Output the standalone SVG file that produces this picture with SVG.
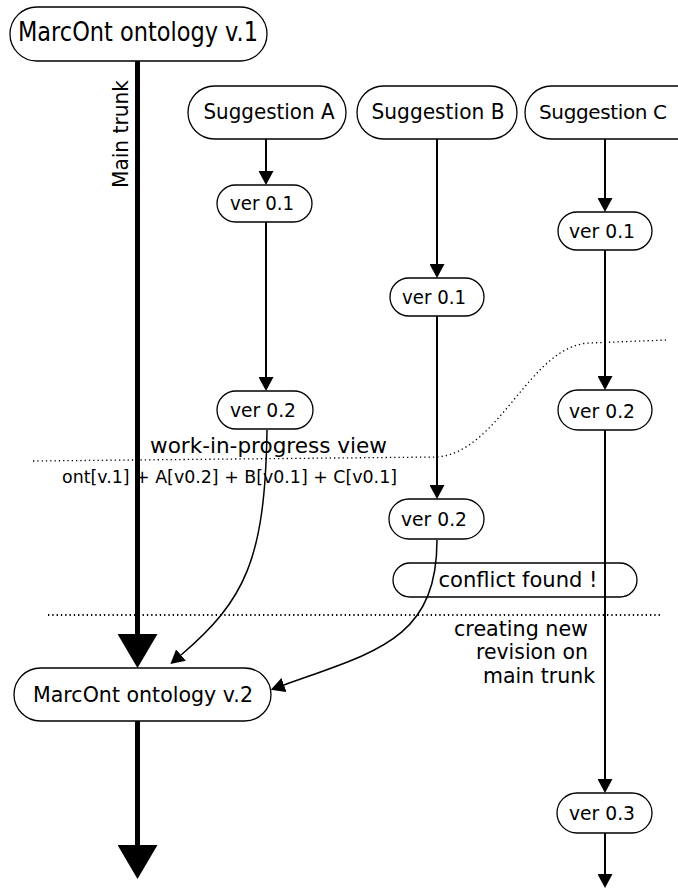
<svg xmlns="http://www.w3.org/2000/svg" width="678" height="891" viewBox="0 0 678 891">
<style>
.node rect,.node path{fill:#fff;stroke:#000;stroke-width:1.3}
#conflict rect{fill:none}
text{font-family:"DejaVu Sans","Liberation Sans",sans-serif;fill:#000}
.c{text-anchor:middle}
.ln{fill:none;stroke:#000;stroke-width:2}
.cv{fill:none;stroke:#000;stroke-width:1.5}
.trunk{fill:none;stroke:#000;stroke-width:5}
.dot{fill:none;stroke:#000;stroke-width:1.3;stroke-dasharray:1.3 3}
</style>
<defs>
<marker id="ar" markerUnits="userSpaceOnUse" markerWidth="14" markerHeight="15" refX="0" refY="7.5" orient="auto" viewBox="0 0 14 15"><path d="M0,0 L14,7.5 L0,15 z" fill="#000"/></marker>
<marker id="big" markerUnits="userSpaceOnUse" markerWidth="34" markerHeight="40" refX="0" refY="20" orient="auto" viewBox="0 0 34 40"><path d="M0,0 L34,20 L0,40 z" fill="#000"/></marker>
</defs>

<g id="guides">
<path class="dot" d="M33,461 L437,457 C500,452 530,345 590,343 L667,340"/>
<path class="dot" d="M48,615 L660,615" style="stroke-width:1.8"/>
</g>

<g id="v1" class="node"><rect x="10" y="7" width="257" height="54" rx="27"/><text class="c" x="138" y="41" font-size="26" textLength="240" lengthAdjust="spacingAndGlyphs">MarcOnt ontology v.1</text></g>
<g id="sugA" class="node"><rect x="188" y="86" width="158" height="53" rx="26.5"/><text class="c" x="269" y="119" font-size="22" textLength="131" lengthAdjust="spacingAndGlyphs">Suggestion A</text></g>
<g id="sugB" class="node"><rect x="357" y="86" width="160" height="53" rx="26.5"/><text class="c" x="438" y="119" font-size="22" textLength="133" lengthAdjust="spacingAndGlyphs">Suggestion B</text></g>
<g id="sugC" class="node"><path d="M678,86 H551.5 A26.5,26.5 0 0 0 551.5,139 H678"/><text class="c" x="603" y="119" font-size="20" textLength="128">Suggestion C</text></g>
<g id="a01" class="node"><rect x="217" y="185" width="95" height="37" rx="18.5"/><text class="c" x="262" y="210" font-size="19" textLength="64" lengthAdjust="spacingAndGlyphs">ver 0.1</text></g>
<g id="c01" class="node"><rect x="558" y="212" width="94" height="38" rx="19"/><text class="c" x="602" y="238" font-size="19" textLength="66" lengthAdjust="spacingAndGlyphs">ver 0.1</text></g>
<g id="b01" class="node"><rect x="390" y="278" width="94" height="38" rx="19"/><text class="c" x="434" y="304" font-size="19" textLength="64" lengthAdjust="spacingAndGlyphs">ver 0.1</text></g>
<g id="a02" class="node"><rect x="217" y="391" width="96" height="38" rx="19"/><text class="c" x="263" y="417" font-size="19" textLength="66" lengthAdjust="spacingAndGlyphs">ver 0.2</text></g>
<g id="c02" class="node"><rect x="558" y="390" width="94" height="40" rx="20"/><text class="c" x="602" y="418" font-size="19" textLength="66" lengthAdjust="spacingAndGlyphs">ver 0.2</text></g>
<g id="b02" class="node"><rect x="389" y="499" width="95" height="40" rx="20"/><text class="c" x="434" y="526" font-size="19" textLength="66" lengthAdjust="spacingAndGlyphs">ver 0.2</text></g>
<g id="conflict" class="node"><rect x="393" y="563" width="244" height="34" rx="17"/><text class="c" x="518" y="587" font-size="21" textLength="159" lengthAdjust="spacingAndGlyphs">conflict found !</text></g>
<g id="v2" class="node"><rect x="14" y="668" width="257" height="53" rx="26.5"/><text class="c" x="143" y="702" font-size="22" textLength="220" lengthAdjust="spacingAndGlyphs">MarcOnt ontology v.2</text></g>
<g id="c03" class="node"><rect x="557" y="793" width="95" height="40" rx="20"/><text class="c" x="602" y="820" font-size="19" textLength="66" lengthAdjust="spacingAndGlyphs">ver 0.3</text></g>

<g id="labels">
<text transform="translate(128,188) rotate(-90)" font-size="21" textLength="108" lengthAdjust="spacingAndGlyphs">Main trunk</text>
<text x="150" y="453" font-size="22" textLength="237" lengthAdjust="spacingAndGlyphs">work-in-progress view</text>
<text x="62" y="483" font-size="17" textLength="335" lengthAdjust="spacingAndGlyphs">ont[v.1] + A[v0.2] + B[v0.1] + C[v0.1]</text>
<text x="454" y="636" font-size="21" textLength="134" lengthAdjust="spacingAndGlyphs">creating new</text>
<text x="476" y="659" font-size="21" textLength="112" lengthAdjust="spacingAndGlyphs">revision on</text>
<text x="483" y="683" font-size="21" textLength="112" lengthAdjust="spacingAndGlyphs">main trunk</text>
</g>

<g id="connectors">
<path class="trunk" d="M137.5,61 L137.5,634" marker-end="url(#big)"/>
<path class="trunk" d="M137.5,721 L137.5,845" marker-end="url(#big)"/>
<path class="ln" d="M266,139 L266,171" marker-end="url(#ar)"/>
<path class="ln" d="M266,222 L266,377" marker-end="url(#ar)"/>
<path class="ln" d="M437,139 L437,264" marker-end="url(#ar)"/>
<path class="ln" d="M437,316 L437,485" marker-end="url(#ar)"/>
<path class="ln" d="M605,139 L605,198" marker-end="url(#ar)"/>
<path class="ln" d="M605,250 L605,376" marker-end="url(#ar)"/>
<path class="ln" d="M605,430 L605,779" marker-end="url(#ar)"/>
<path class="ln" d="M605,833 L605,874" marker-end="url(#ar)"/>
<path class="cv" d="M267,430 C265,560 245,600 181,655" marker-end="url(#ar)"/>
<path class="cv" d="M437,540 C437,640 375,652 284,685" marker-end="url(#ar)"/>
</g>
</svg>
